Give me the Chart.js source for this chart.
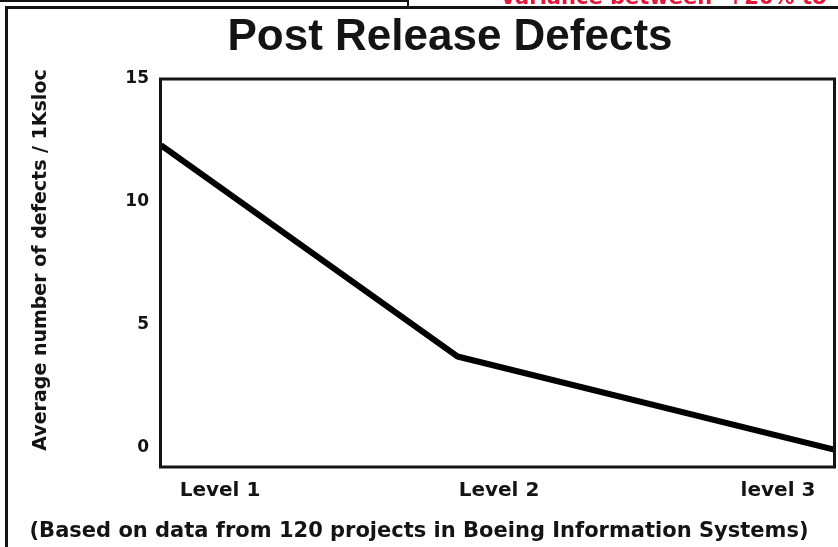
<!DOCTYPE html>
<html>
<head>
<meta charset="utf-8">
<title>Post Release Defects</title>
<script src="https://cdn.jsdelivr.net/npm/chart.js@4.4.1/dist/chart.umd.min.js"></script>
<style>
  html, body { margin: 0; padding: 0; background: #fff; }
  #wrap { width: 838px; height: 547px; position: relative; }
</style>
</head>
<body>
<div id="wrap"><canvas id="c"></canvas></div>
<script>
// Process maturity levels and the average post-release defect density at each
const levels = ['Level 1', 'Level 2', 'level 3'];
const levelPositions = [1, 1.88, 3];
const defectsPerKsloc = [12.3, 3.7, -0.1];
const yTickValues = [0, 5, 10, 15];

const chartTitle = 'Post Release Defects';
const yAxisTitle = 'Average number of defects / 1Ksloc';
const footnote = '(Based on data from 120 projects in Boeing Information Systems)';
const bannerText = 'Variance between  +20% to';

const BOLD = '"DejaVu Sans", "Liberation Sans", Arial, sans-serif';
const HEAD = '"Liberation Sans", Arial, Helvetica, sans-serif';
const INK = '#141414';

// Page furniture: frame, banner strip, title, rotated axis caption, footnote, plot box
const pagePlugin = {
  id: 'page',
  beforeDraw(chart) {
    const ctx = chart.ctx;
    ctx.save();
    ctx.fillStyle = '#fff';
    ctx.fillRect(0, 0, chart.width, chart.height);
    ctx.restore();
  },
  afterDatasetsDraw(chart) {
    const { ctx, chartArea: a } = chart;
    ctx.save();
    ctx.strokeStyle = INK;
    ctx.lineWidth = 3;
    ctx.strokeRect(a.left - 0.5, a.top, a.right - a.left, a.bottom - a.top);
    ctx.restore();
  },
  afterDraw(chart) {
    const ctx = chart.ctx;
    ctx.save();
    // strip above the frame
    ctx.fillStyle = INK;
    ctx.fillRect(0, 0, 409, 2);
    ctx.fillRect(407, 0, 2, 7);
    // outer frame (top and left edges)
    ctx.fillRect(5, 6, chart.width - 5, 3);
    ctx.fillRect(5, 6, 3, chart.height - 6);

    // banner text clipped by the top edge
    ctx.fillStyle = '#e3163a';
    ctx.font = 'bold 21px ' + BOLD;
    ctx.textAlign = 'left';
    ctx.textBaseline = 'alphabetic';
    ctx.fillText(bannerText, 500, 4);

    // title
    ctx.fillStyle = INK;
    ctx.font = 'bold 44px ' + HEAD;
    ctx.textAlign = 'center';
    ctx.fillText(chartTitle, 450, 50);

    // footnote
    ctx.font = 'bold 21px ' + BOLD;
    ctx.fillText(footnote, 419, 537);

    // rotated y axis caption
    ctx.translate(41, 260);
    ctx.rotate(-Math.PI / 2);
    ctx.font = 'bold 19px ' + BOLD;
    ctx.textBaseline = 'middle';
    ctx.fillText(yAxisTitle, 0, 0);
    ctx.restore();
  }
};

new Chart(document.getElementById('c'), {
  type: 'line',
  data: {
    datasets: [{
      data: levelPositions.map((x, i) => ({ x: x, y: defectsPerKsloc[i] })),
      borderColor: '#000',
      borderWidth: 6,
      borderJoinStyle: 'round',
      borderCapStyle: 'butt',
      pointRadius: 0,
      tension: 0,
      fill: false,
      xAxisID: 'x',
      yAxisID: 'y'
    }]
  },
  options: {
    responsive: true,
    maintainAspectRatio: false,
    animation: false,
    events: [],
    layout: { padding: { top: 79, left: 8, right: 3, bottom: 0 } },
    plugins: { legend: { display: false }, tooltip: { enabled: false }, title: { display: false } },
    scales: {
      x: {
        type: 'linear',
        display: false,
        min: 1,
        max: 3
      },
      xl: {
        type: 'linear',
        position: 'bottom',
        min: 0.7885,
        max: 3.2043,
        afterBuildTicks(scale) {
          scale.ticks = levels.map((_, i) => ({ value: i + 1 }));
        },
        afterFit(scale) { scale.height = 80; },
        grid: { display: false, drawTicks: false },
        border: { display: false },
        ticks: {
          padding: 12,
          maxRotation: 0,
          autoSkip: false,
          color: INK,
          font: { family: BOLD, size: 20, weight: 'bold' },
          callback: (v) => levels[Math.round(v) - 1]
        }
      },
      y: {
        type: 'linear',
        position: 'left',
        min: -0.8,
        max: 15,
        afterBuildTicks(scale) {
          scale.ticks = yTickValues.map(v => ({ value: v }));
        },
        afterFit(scale) { scale.width = 153; },
        grid: { display: false, drawTicks: false },
        border: { display: false },
        ticks: {
          padding: 12,
          color: INK,
          font: { family: BOLD, size: 17, weight: 'bold' }
        }
      }
    }
  },
  plugins: [pagePlugin]
});
</script>
</body>
</html>
